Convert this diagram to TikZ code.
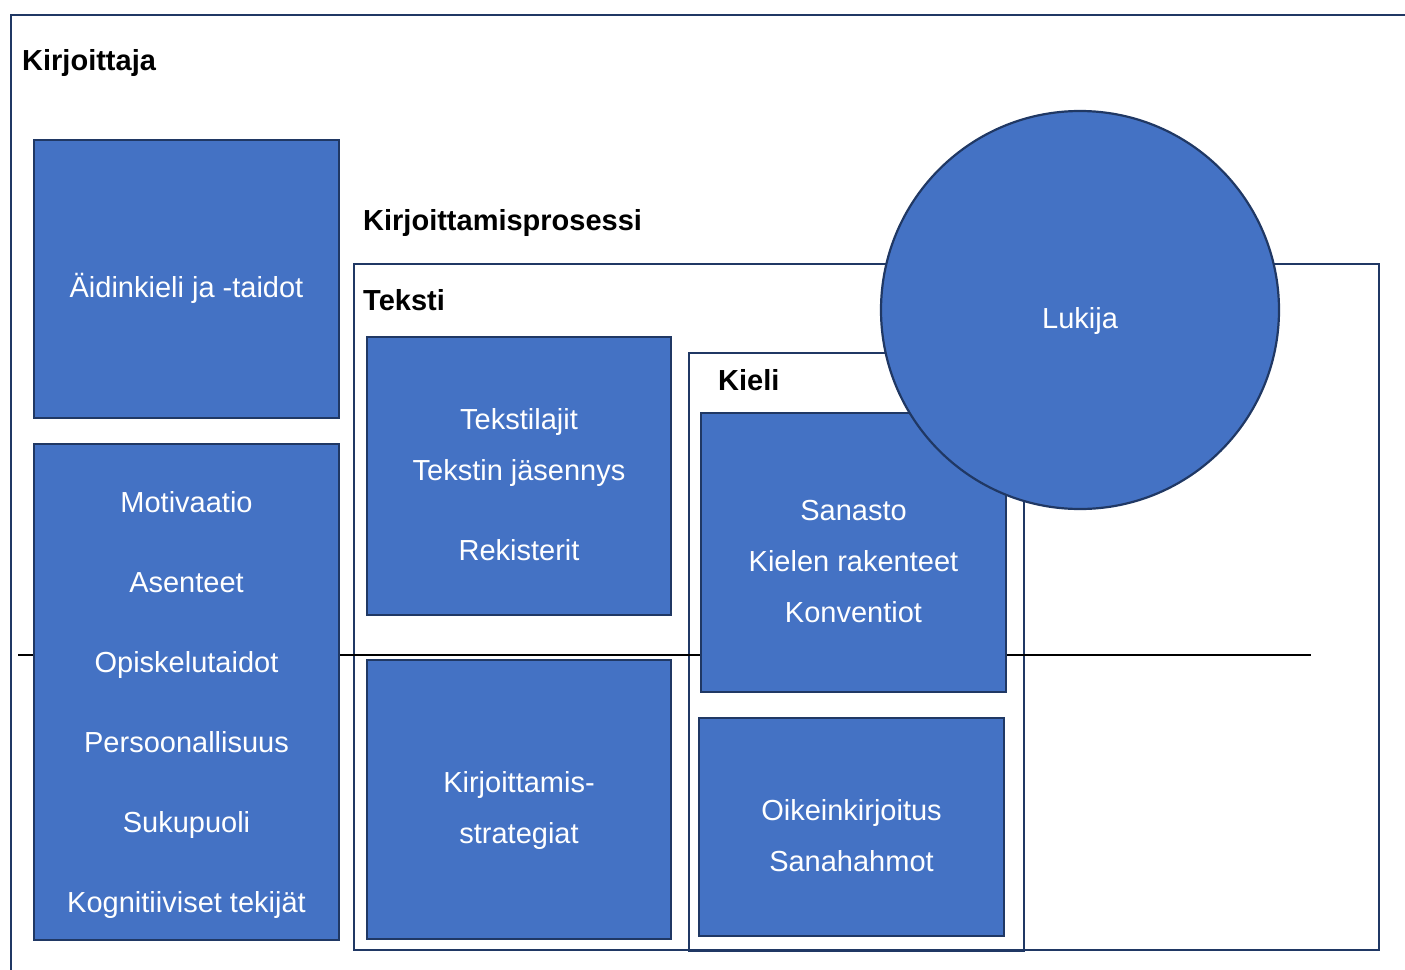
\documentclass[tikz,border=0pt]{standalone}
\usepackage{fontspec}
\setmainfont{Liberation Sans}
\definecolor{boxblue}{RGB}{68,114,196}
\definecolor{boxedge}{RGB}{32,56,100}
\usetikzlibrary{positioning}
\tikzset{
  bluebox/.style={draw=boxedge,fill=boxblue,line width=2.5pt,inner sep=0pt},
  boxtext/.style={text=white,align=center,inner sep=0pt,yshift=-9pt,
        font=\fontsize{29}{51}\selectfont},
  framebox/.style={draw=boxedge,line width=2.2pt,inner sep=0pt,anchor=north west},
  heading/.style={anchor=west,inner sep=0pt,font=\fontsize{29}{35}\selectfont\bfseries},
}

\begin{document}
\begin{tikzpicture}[x=1pt,y=-1pt]
  \useasboundingbox (0,0) rectangle (1405,969);
  \clip (0,0) rectangle (1405,969);
  %% Frames
  \node[framebox,minimum width=1420pt,minimum height=990pt] (kirjoittaja) at (10,14) {};
  \node[framebox,minimum width=1025pt,minimum height=686pt] (prosessi) at (353,263) {};
  \node[framebox,minimum width=335pt,minimum height=598pt] (kieli) at (688,352) {};
  %% Headings
  \node[heading] (kirjoittajaotsikko) at (22,63) {Kirjoittaja};
  \node[heading] (prosessiotsikko) at (363,223) {Kirjoittamisprosessi};
  \node[heading] (tekstiotsikko) at (363,300) {Teksti};
  \node[heading] (kieliotsikko) at (718,380) {Kieli};
  %% Horizontal line
  \coordinate (viivaalku) at (18,655);
  \coordinate (viivaloppu) at (1311,655);
  \draw[line width=2pt] (viivaalku) -- (viivaloppu);
  %% Box 1
  \node[bluebox,minimum width=305pt,minimum height=278pt] (aidinkieli) at (186.5,279) {};
  \node[boxtext] (aidinkieliteksti) at (aidinkieli.center) {Äidinkieli ja -taidot};
  %% Box 2
  \node[bluebox,minimum width=305pt,minimum height=496pt] (motivaatio) at (186.5,692) {};
  \node[boxtext,yshift=-4pt] (motivaatioteksti) at (motivaatio.center)
        {Motivaatio\\[29pt]Asenteet\\[29pt]Opiskelutaidot\\[29pt]Persoonallisuus\\[29pt]Sukupuoli\\[29pt]Kognitiiviset tekijät};
  %% Box 3
  \node[bluebox,minimum width=304pt,minimum height=278pt] (tekstilajit) at (519,476) {};
  \node[boxtext] (tekstilajitteksti) at (tekstilajit.center)
        {Tekstilajit\\Tekstin jäsennys\\[29pt]Rekisterit};
  %% Box 4
  \node[bluebox,minimum width=304pt,minimum height=279pt] (strategiat) at (519,799.5) {};
  \node[boxtext,yshift=-2pt] (strategiatteksti) at (strategiat.center) {Kirjoittamis-\\strategiat};
  %% Box 5
  \node[bluebox,minimum width=305pt,minimum height=279pt] (sanasto) at (853.5,552.5) {};
  \node[boxtext] (sanastoteksti) at (sanasto.center) {Sanasto\\Kielen rakenteet\\Konventiot};
  %% Box 6
  \node[bluebox,minimum width=305pt,minimum height=218pt] (oikeinkirjoitus) at (851.5,827) {};
  \node[boxtext] (oikeinkirjoitusteksti) at (oikeinkirjoitus.center) {Oikeinkirjoitus\\Sanahahmot};
  %% Reader
  \node[bluebox,circle,line width=2.2pt,minimum size=398pt] (lukija) at (1080,310) {};
  \node[boxtext,yshift=-2pt] (lukijateksti) at (lukija.center) {Lukija};
\end{tikzpicture}
\end{document}
